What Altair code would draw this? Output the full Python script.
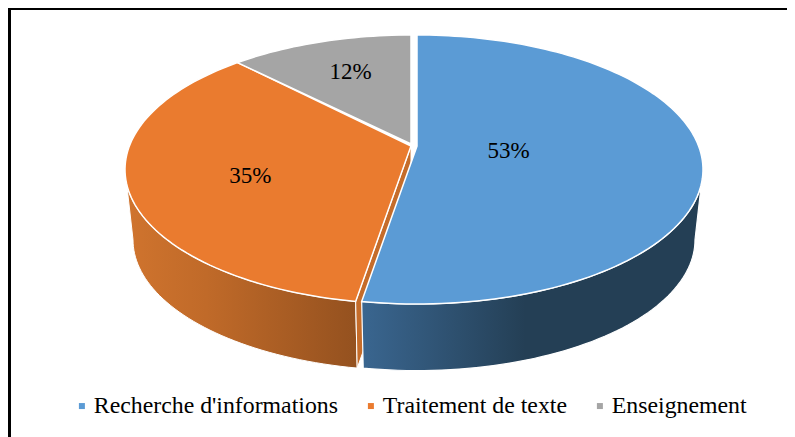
import math
import altair as alt
import pandas as pd

# ---- data
categories = ["Recherche d'informations", "Traitement de texte", "Enseignement"]
shares = [52.6, 35.2, 12.2]
labels = ["53%", "35%", "12%"]
colors = ["#5B9BD5", "#EA7B2F", "#A5A5A5"]

# ---- layout of the tilted pie (reference pixels)
W, H = 779, 429
RX, RY, PERSP = 281.6, 130.4, 0.1747
DEPTH, SHRINK = 71, 0.972
BLUE_C = (417, 146)
ORANGE_C = (411, 146)
GRAY_APEX = (411, 144)
TANGENT = 100
FONT = "Liberation Serif"


def project(c, rho, deg, depth=0.0, f=1.0):
    t = math.radians(deg)
    u, v = rho * math.sin(t), rho * math.cos(t)
    s = f / (1 + PERSP * v)
    return c[0] + RX * u * s, c[1] + depth - RY * v * s


def rim(c, a, b, depth=0.0, f=1.0, step=1.5):
    n = max(2, int(abs(b - a) / step))
    return [project(c, 1, a + (b - a) * i / n, depth, f) for i in range(n + 1)]


def frame(points):
    return pd.DataFrame([{"x": x, "y": y, "i": i} for i, (x, y) in enumerate(points)])


xs = alt.X("x:Q", scale=alt.Scale(domain=[8, 787], nice=False, zero=False), axis=None)
ys = alt.Y("y:Q", scale=alt.Scale(domain=[437, 8], nice=False, zero=False), axis=None)


def poly(points, fill, stroke="white", width=1.5):
    return (
        alt.Chart(frame(points))
        .mark_line(interpolate="linear-closed", fill=fill, stroke=stroke, strokeWidth=width)
        .encode(x=xs, y=ys, order=alt.Order("i:Q"))
    )


deg = [v / sum(shares) * 360 for v in shares]
blue_end = deg[0]
gray_start = -deg[2]
orange_end = gray_start - deg[1]  # same edge as blue_end, measured the other way

blue_grad = alt.Gradient(
    gradient="linear", x1=0, x2=1, y1=0, y2=0,
    stops=[
        alt.GradientStop(offset=0, color="#3A6690"),
        alt.GradientStop(offset=0.48, color="#243F55"),
        alt.GradientStop(offset=1, color="#243F55"),
    ],
)
orange_grad = alt.Gradient(
    gradient="linear", x1=0, x2=1, y1=0, y2=0,
    stops=[
        alt.GradientStop(offset=0, color="#D0742E"),
        alt.GradientStop(offset=0.35, color="#C06A29"),
        alt.GradientStop(offset=1, color="#94511F"),
    ],
)

orange_wall = poly(
    rim(ORANGE_C, -TANGENT, orange_end) + rim(ORANGE_C, orange_end, -TANGENT, DEPTH, SHRINK),
    orange_grad, width=1,
)
corner_top = project(ORANGE_C, 1, orange_end)
corner_bot = project(ORANGE_C, 1, orange_end, DEPTH, SHRINK)
apex_bot = project(ORANGE_C, 0, 0, DEPTH, SHRINK)
orange_inner = poly([ORANGE_C, corner_top, corner_bot, apex_bot], "#C56C2A", width=1)
blue_wall = poly(
    rim(BLUE_C, TANGENT, blue_end) + rim(BLUE_C, blue_end, TANGENT, DEPTH, SHRINK),
    blue_grad, width=1.2,
)

orange_top = poly([ORANGE_C] + rim(ORANGE_C, gray_start, orange_end), colors[1])
gray_top = poly([GRAY_APEX] + rim(ORANGE_C, 0, gray_start), colors[2])
blue_top = poly([BLUE_C] + rim(BLUE_C, 0, blue_end), colors[0])

# ---- percentage labels: radial distance and angle inside each slice
label_at = [
    project(BLUE_C, 0.325, blue_end / 2 + 2),
    project(ORANGE_C, 0.591, (gray_start + orange_end) / 2 - 4.5),
    project(ORANGE_C, 0.675, gray_start / 2 + 1.3),
]
label_df = pd.DataFrame(
    {"x": [p[0] for p in label_at], "y": [p[1] for p in label_at], "label": labels}
)
text = (
    alt.Chart(label_df)
    .mark_text(font=FONT, fontSize=23, color="black", align="center", baseline="middle")
    .encode(x=xs, y=ys, text="label:N")
)

# ---- legend, carried by an invisible layer
legend_df = pd.DataFrame({"cat": categories})
legend = (
    alt.Chart(legend_df)
    .mark_square(opacity=0)
    .encode(
        x=alt.value(0),
        y=alt.value(0),
        color=alt.Color(
            "cat:N",
            scale=alt.Scale(domain=categories, range=colors),
            legend=alt.Legend(
                title=None,
                orient="none",
                legendX=62,
                legendY=386,
                direction="horizontal",
                columns=3,
                columnPadding=21,
                symbolType="square",
                symbolSize=36,
                symbolOpacity=1,
                symbolStrokeWidth=0,
                labelFont=FONT,
                labelFontSize=23.8,
                labelColor="black",
                labelLimit=400,
                labelOffset=0,
            ),
        ),
    )
)

# ---- the black frame of the source figure
left_rule = alt.Chart(legend_df).mark_rule(color="black", strokeWidth=3).encode(
    x=alt.value(1.5), y=alt.value(0), y2=alt.value(H)
)
top_rule = alt.Chart(legend_df).mark_rule(color="black", strokeWidth=2).encode(
    y=alt.value(1), x=alt.value(0), x2=alt.value(W)
)

chart = (
    alt.layer(
        left_rule, top_rule,
        orange_wall, orange_inner, blue_wall,
        orange_top, gray_top, blue_top,
        text, legend,
    )
    .properties(width=W, height=H, padding=0, autosize=alt.AutoSizeParams(type="none"),
                background="white")
    .configure_view(stroke=None)
)

chart.save("out.html", embed_options={"renderer": "svg", "actions": False})
